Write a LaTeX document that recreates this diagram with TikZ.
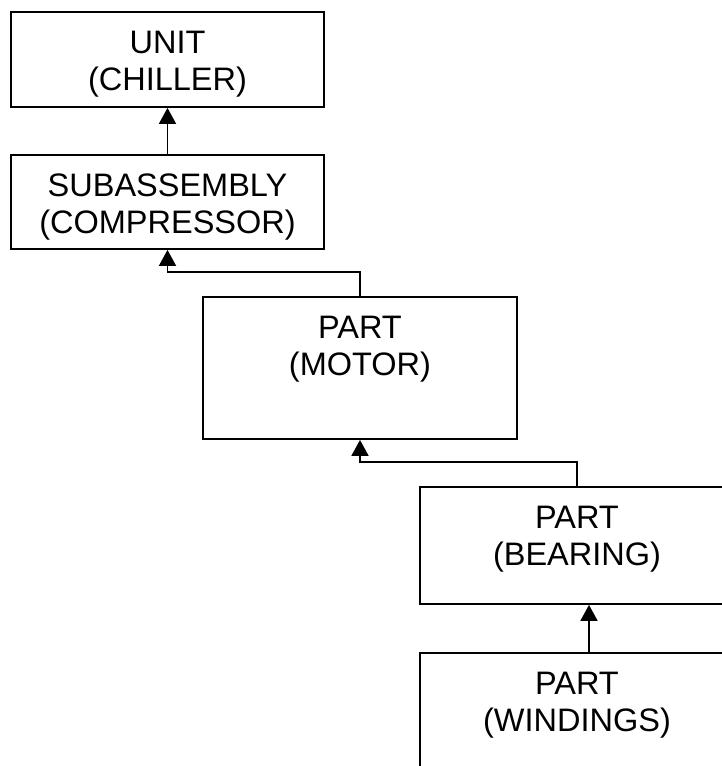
\documentclass[tikz,border=0pt]{standalone}
\usepackage{fontspec}
\setmainfont{Liberation Sans}
\usetikzlibrary{arrows.meta}
\begin{document}
\begin{tikzpicture}[x=1pt,y=-1pt,
  box/.style={draw, line width=1.8pt, rectangle, inner sep=0pt,
    minimum width=#1, minimum height=95pt},
  label text/.style={anchor=north, inner sep=0pt, align=center,
    font=\fontsize{32.5}{37}\selectfont},
  link/.style={line width=1.8pt, -{Triangle[length=16pt,width=17pt]}}]
  \useasboundingbox (0,0) rectangle (722,766);
  \clip (0,0) rectangle (722,766);

  % boxes of the hierarchy
  \node[box=313pt] (unit) at (167.5,59.5) {};
  \node[box=313pt, minimum height=94pt] (sub) at (167.5,202) {};
  \node[box=314pt, minimum height=142pt] (motor) at (360,368) {};
  \node[box=314pt, minimum height=117pt] (bear) at (577,545.5) {};
  \node[box=314pt, minimum height=117pt] (wind) at (577,711.5) {};

  % captions, hung from the top edge of each box
  \node[label text] (unitT) at ([yshift=-20pt]unit.north) {UNIT\\(CHILLER)};
  \node[label text] (subT) at ([yshift=-20pt]sub.north) {SUBASSEMBLY\\(COMPRESSOR)};
  \node[label text] (motorT) at ([yshift=-20pt]motor.north) {PART\\(MOTOR)};
  \node[label text] (bearT) at ([yshift=-20pt]bear.north) {PART\\(BEARING)};
  \node[label text] (windT) at ([yshift=-20pt]wind.north) {PART\\(WINDINGS)};

  % connectors, each part pointing to its parent
  \draw[link] (sub.north) -- (unit.south);
  \draw[link] (motor.north) -- ++(0,-24) -| (sub.south);
  \draw[link] (bear.north) -- ++(0,-24) -| (motor.south);
  \draw[link] ([xshift=12pt]wind.north) -- ([xshift=12pt]bear.south);
\end{tikzpicture}
\end{document}
